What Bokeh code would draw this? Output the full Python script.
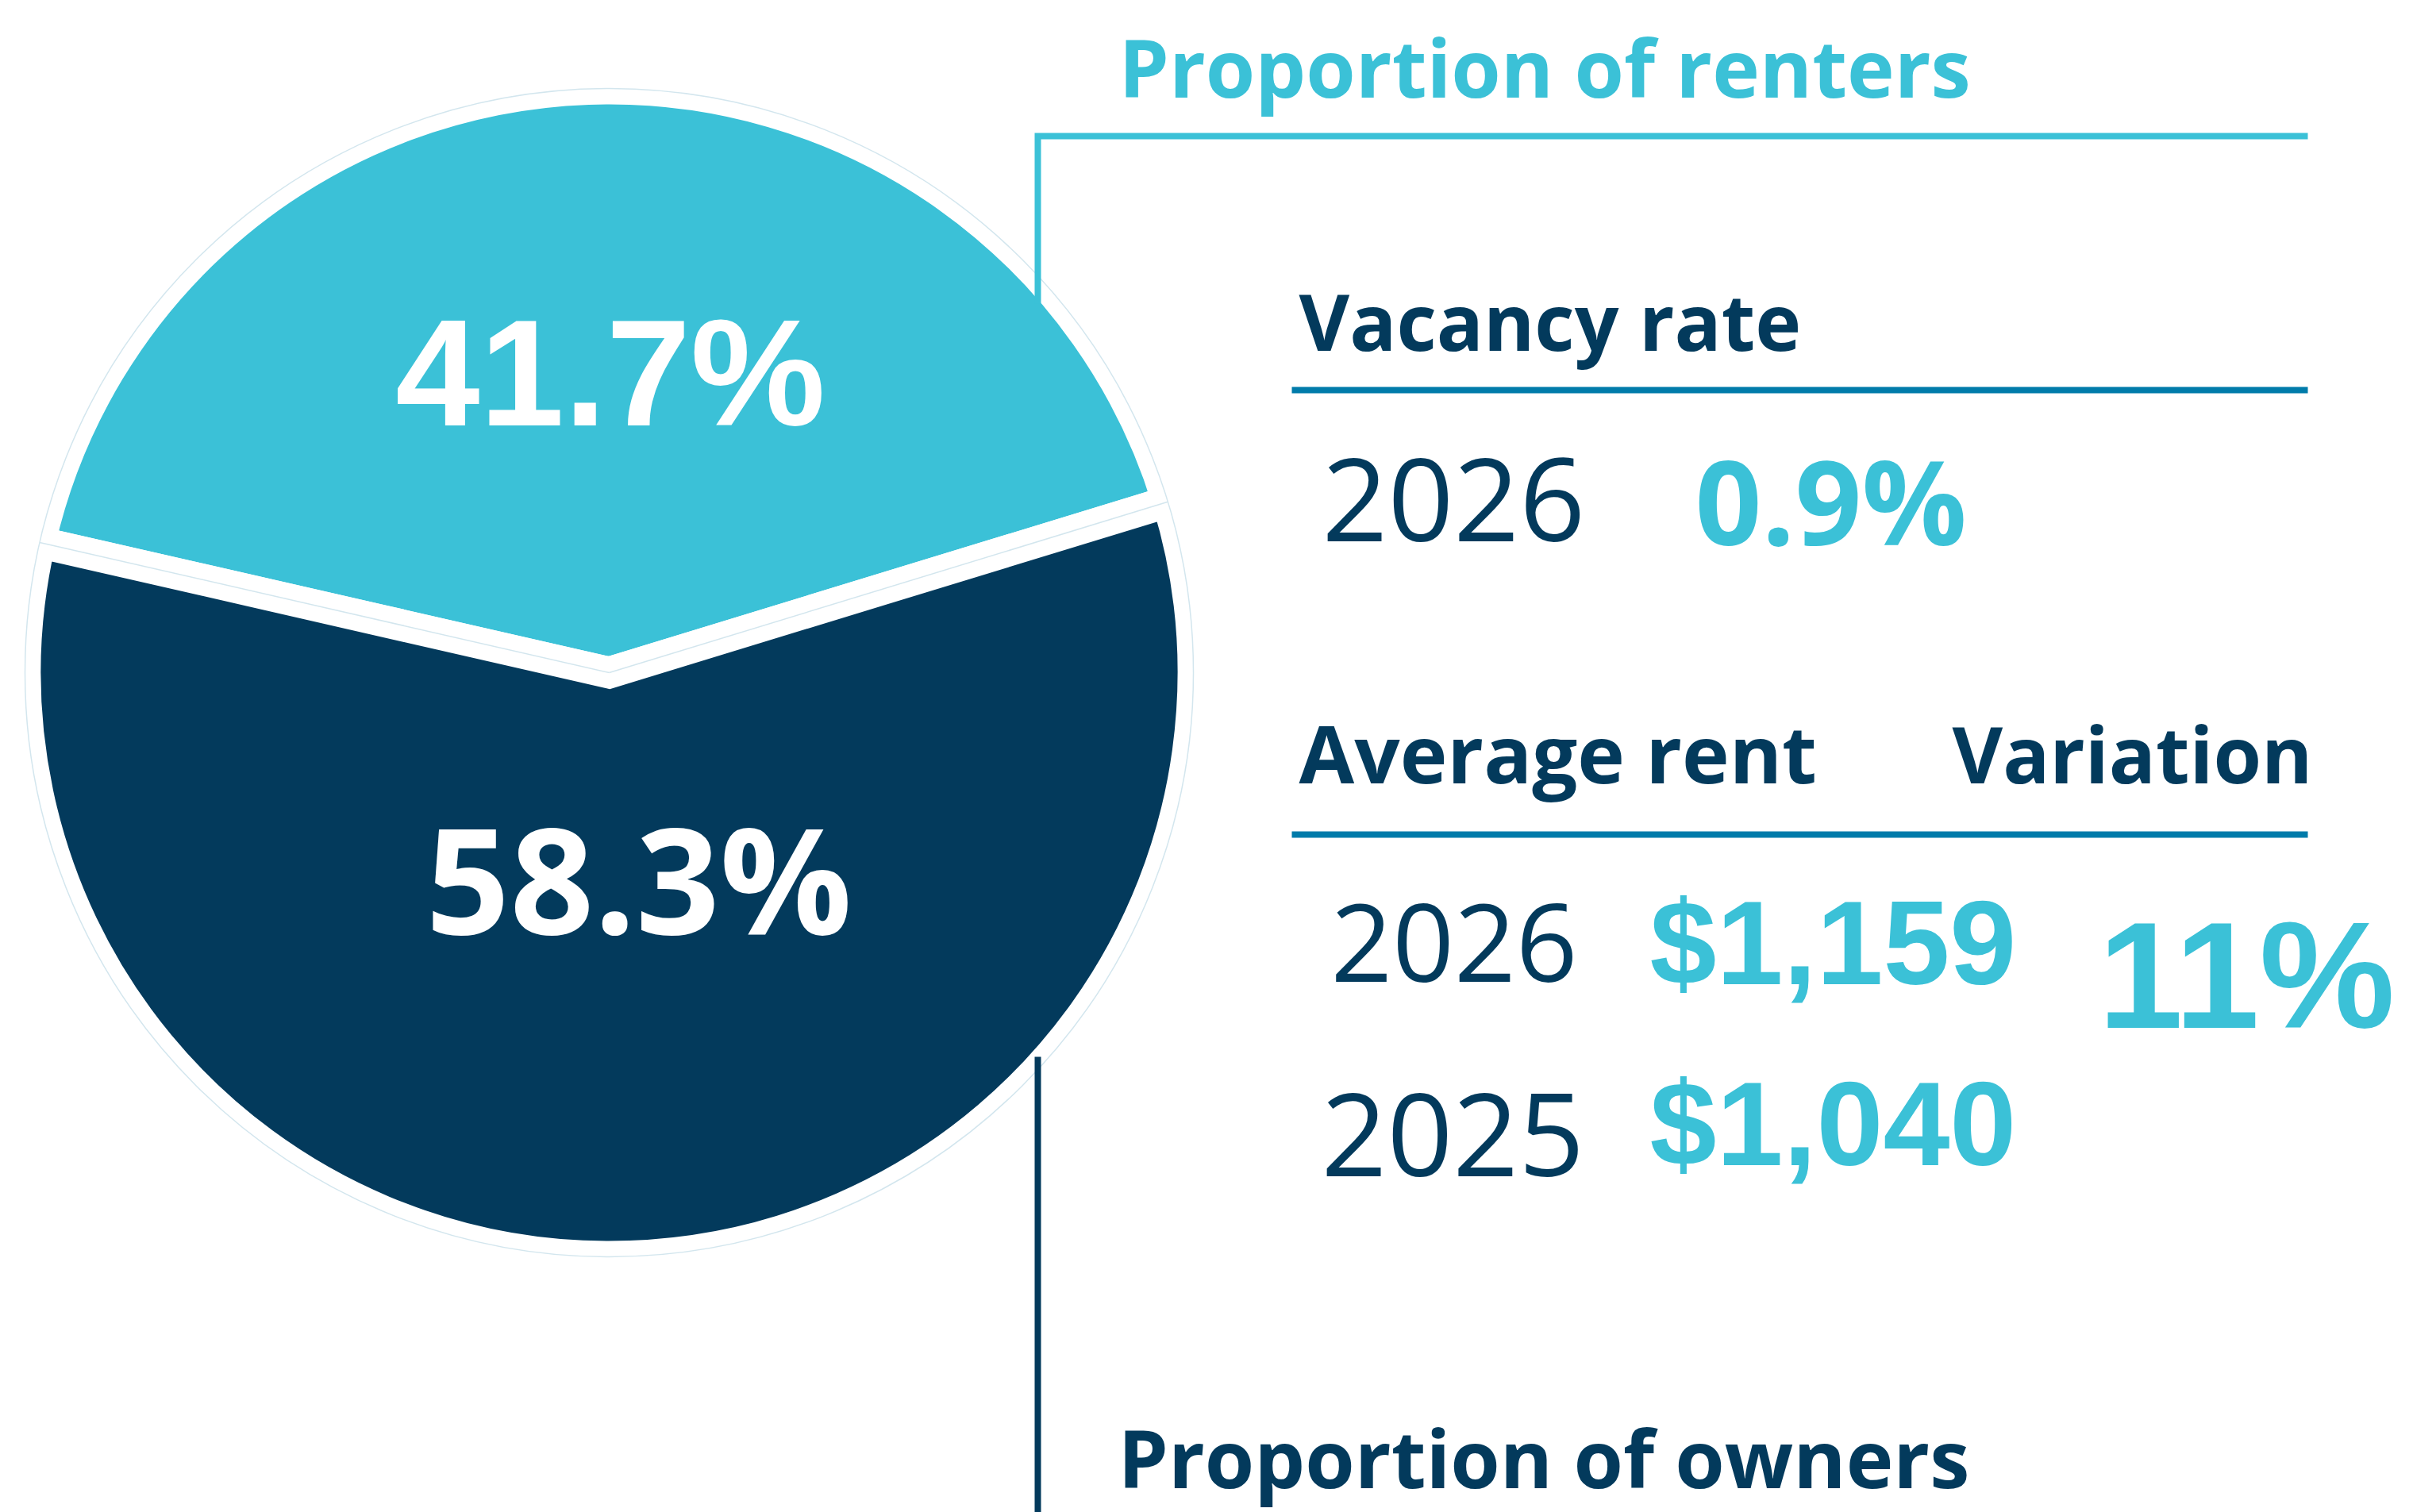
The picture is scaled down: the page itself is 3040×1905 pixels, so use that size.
import math
from bokeh.plotting import figure
from bokeh.models import Range1d, ColumnDataSource, Label
from bokeh.embed import file_html
from bokeh.resources import INLINE

# ---------------- data ----------------
share_names = ["Proportion of renters", "Proportion of owners"]
share_values = [41.7, 58.3]          # percent
vacancy_years = ["2026"]
vacancy_rates = [0.9]                # percent
rent_years = ["2026", "2025"]
rent_values = [1159, 1040]           # dollars
rent_variation = [11]                # percent

# ---------------- style ----------------
LIGHT = "#3bc1d7"
NAVY = "#033a5c"
MID = "#007baa"
FAINT = "#d3e6ee"
SANS = "Open Sans"
ARIAL = "Liberation Sans"
# distance from the middle of the font box to the baseline, in em
MID_TO_BASE = {SANS: 0.388, ARIAL: 0.3465}

W, H = 3040, 1905


def Y(py):
    return H - py


p = figure(width=W, height=H,
           x_range=Range1d(0, W), y_range=Range1d(0, H),
           output_backend="svg", toolbar_location=None,
           x_axis_type=None, y_axis_type=None, min_border=0,
           outline_line_color=None, background_fill_color="white",
           border_fill_color="white")

# ---------------- pie ----------------
cx, cy, R = 767, Y(847), 736
start_deg = 17.0
starts, ends = [], []
acc = start_deg
for v in share_values:
    starts.append(math.radians(acc))
    acc += v / sum(share_values) * 360.0
    ends.append(math.radians(acc))

pie = ColumnDataSource(dict(start=starts, end=ends, color=[LIGHT, NAVY]))
p.wedge(x=cx, y=cy, radius=R, start_angle="start", end_angle="end",
        fill_color="color", line_color="white", line_width=40,
        line_join="miter", source=pie)

# faint edge artefacts (fill edges showing through the white strokes)
p.circle(x=[cx], y=[cy], radius=R, fill_color=None, line_color=FAINT,
         line_width=1.5)
for a in starts:
    p.line([cx, cx + R * math.cos(a)], [cy, cy + R * math.sin(a)],
           line_color=FAINT, line_width=1.5)


def txt(x, baseline, s, font, size, color, bold=True, align="left"):
    # note: font sizes like 100px/200px confuse the SVG font parser
    cy_pix = baseline - MID_TO_BASE[font] * size
    p.add_layout(Label(x=x, y=Y(cy_pix), text=s, text_font=font,
                       text_font_style="bold" if bold else "normal",
                       text_font_size=f"{size}px", text_color=color,
                       text_align=align, text_baseline="middle"))


# ---------------- bracket lines ----------------
p.line([1307, 1307, 2907], [Y(382), Y(171), Y(171)], line_color=LIGHT,
       line_width=8, line_join="miter")
p.line([1307, 1307], [Y(1331), Y(1905)], line_color=NAVY, line_width=8)
p.line([1627, 2907], [Y(491), Y(491)], line_color=MID, line_width=8)
p.line([1627, 2907], [Y(1051), Y(1051)], line_color=MID, line_width=8)

# pie labels
txt(768.5, 535, f"{share_values[0]}%", ARIAL, 191, "white", align="center")
txt(804.5, 1176, f"{share_values[1]}%", SANS, 185, "white", align="center")

# ---------------- headings ----------------
txt(1409, 123, share_names[0], SANS, 101, LIGHT)
txt(1408, 1875, share_names[1], SANS, 101, NAVY)
txt(1636, 442, "Vacancy rate", SANS, 98, NAVY)
txt(1636, 987, "Average rent", SANS, 101, NAVY)
txt(2913, 987, "Variation", SANS, 98, NAVY, align="right")

# vacancy rate row
txt(1665, 686, vacancy_years[0], SANS, 145, NAVY, bold=False)
txt(2135, 687, f"{vacancy_rates[0]}%", SANS, 147, LIGHT)

# average rent rows
rent_baselines = [1239, 1467]
year_baselines = [1241, 1486]
year_sizes = [136, 145]
year_x = [1676, 1664]
for yr, val, yb, rb, ys, yx in zip(rent_years, rent_values, year_baselines,
                                   rent_baselines, year_sizes, year_x):
    txt(yx, yb, yr, SANS, ys, NAVY, bold=False)
    txt(2078, rb, f"${val:,}", ARIAL, 151, LIGHT)

txt(2643, 1295, f"{rent_variation[0]}%", ARIAL, 192, LIGHT)

open("out.html", "w").write(file_html(p, INLINE))
